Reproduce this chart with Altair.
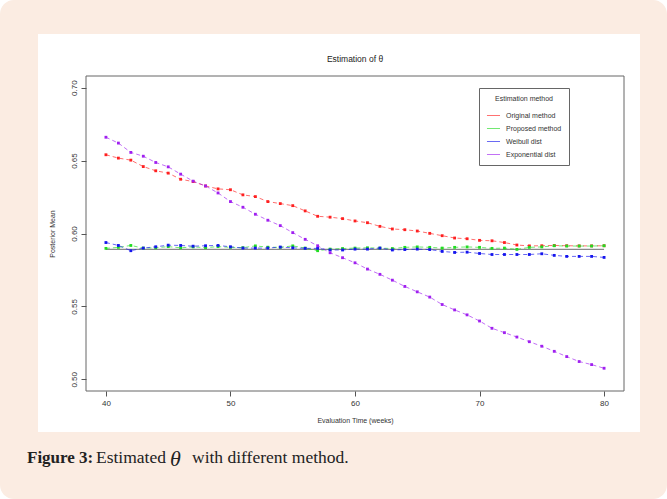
import altair as alt
import pandas as pd

weeks = list(range(40, 81))

original = [0.6540, 0.6517, 0.6503, 0.6459, 0.6430, 0.6414, 0.6372, 0.6356, 0.6326, 0.6306,
            0.6300, 0.6265, 0.6253, 0.6219, 0.6205, 0.6191, 0.6155, 0.6118, 0.6112, 0.6102,
            0.6086, 0.6074, 0.6049, 0.6031, 0.6026, 0.6017, 0.6001, 0.5985, 0.5969, 0.5964,
            0.5953, 0.5950, 0.5938, 0.5921, 0.5915, 0.5916, 0.5918, 0.5916, 0.5915, 0.5915, 0.5916]
proposed = [0.5898, 0.5905, 0.5918, 0.5900, 0.5902, 0.5910, 0.5902, 0.5908, 0.5903, 0.5910,
            0.5905, 0.5903, 0.5915, 0.5906, 0.5905, 0.5915, 0.5900, 0.5882, 0.5893, 0.5897,
            0.5900, 0.5902, 0.5900, 0.5897, 0.5905, 0.5908, 0.5905, 0.5900, 0.5905, 0.5908,
            0.5905, 0.5898, 0.5900, 0.5891, 0.5905, 0.5908, 0.5916, 0.5914, 0.5914, 0.5914, 0.5916]
weibull = [0.5938, 0.5918, 0.5882, 0.5900, 0.5909, 0.5920, 0.5918, 0.5913, 0.5916, 0.5918,
           0.5909, 0.5900, 0.5900, 0.5900, 0.5907, 0.5902, 0.5898, 0.5898, 0.5887, 0.5887,
           0.5893, 0.5893, 0.5900, 0.5887, 0.5890, 0.5893, 0.5890, 0.5877, 0.5870, 0.5872,
           0.5863, 0.5856, 0.5856, 0.5856, 0.5856, 0.5861, 0.5850, 0.5843, 0.5843, 0.5843, 0.5836]
exponential = [0.6660, 0.6620, 0.6556, 0.6530, 0.6487, 0.6457, 0.6407, 0.6359, 0.6326, 0.6278,
               0.6219, 0.6180, 0.6132, 0.6091, 0.6054, 0.6006, 0.5960, 0.5916, 0.5868, 0.5834,
               0.5799, 0.5756, 0.5720, 0.5680, 0.5637, 0.5600, 0.5564, 0.5513, 0.5476, 0.5442,
               0.5400, 0.5350, 0.5320, 0.5290, 0.5258, 0.5227, 0.5192, 0.5156, 0.5122, 0.5101, 0.5076]
true_value = [0.5891]

methods = ["Original method", "Proposed method", "Weibull dist", "Exponential dist"]
colors = ["#ff2020", "#22dd22", "#1515ee", "#a020f0"]

chart_title = ["Estimation of θ"]
caption_bold = ["Figure 3:"]
caption_rest = ["Estimated", "θ", "with different method."]

rows = []
for m, series in zip(methods, [original, proposed, weibull, exponential]):
    for w, v in zip(weeks, series):
        rows.append({"week": w, "value": v, "method": m})
df = pd.DataFrame(rows)

W, H = 538, 315
L, T = 86, 76

xs = alt.Scale(domain=[38.4, 81.6], nice=False, zero=False)
ys = alt.Scale(domain=[0.492, 0.708], nice=False, zero=False)
cs = alt.Scale(domain=methods, range=colors)

FONT = "Liberation Sans"

outer = alt.Chart(pd.DataFrame({"k": [0]})).mark_rect(
    color="#fbece2", cornerRadius=14
).encode(x=alt.value(-L), x2=alt.value(667 - L), y=alt.value(-T), y2=alt.value(499 - T))

panel = alt.Chart(pd.DataFrame({"k": [0]})).mark_rect(color="white").encode(
    x=alt.value(38 - L), x2=alt.value(640 - L), y=alt.value(34 - T), y2=alt.value(432 - T)
)

frame = alt.Chart(pd.DataFrame({"k": [0]})).mark_rect(
    fill=None, stroke="#666666", strokeWidth=1
).encode(x=alt.value(0), x2=alt.value(W), y=alt.value(0), y2=alt.value(H))

base = alt.Chart(df)

lines = base.mark_line(strokeDash=[4, 3], strokeWidth=1, opacity=0.65).encode(
    x=alt.X("week:Q", scale=xs,
            axis=alt.Axis(values=[40, 50, 60, 70, 80], title="Evaluation Time (weeks)",
                          grid=False, domain=False, tickSize=5, tickColor="#555",
                          labelFontSize=8, labelColor="#333", labelFont=FONT, labelPadding=3,
                          titleFont=FONT, titleFontSize=7, titleFontWeight="normal",
                          titleColor="#333", titlePadding=9, zindex=2)),
    y=alt.Y("value:Q", scale=ys,
            axis=alt.Axis(values=[0.5, 0.55, 0.6, 0.65, 0.7], format=".2f",
                          title="Posterior Mean", grid=False, domain=False, tickSize=5,
                          tickColor="#555", labelAngle=-90, labelAlign="center",
                          labelBaseline="bottom", labelFontSize=8, labelColor="#333",
                          labelFont=FONT, labelPadding=3, titleFont=FONT, titleFontSize=7,
                          titleFontWeight="normal", titleColor="#333", titlePadding=15,
                          zindex=2)),
    color=alt.Color("method:N", scale=cs, sort=methods,
                    legend=alt.Legend(title="Estimation method", orient="none",
                                      legendX=479 - L, legendY=88 - T,
                                      symbolType="stroke", symbolStrokeWidth=1,
                                      symbolSize=170, labelFontSize=7, titleFontSize=7,
                                      titleFontWeight="normal", titleAnchor="middle",
                                      titleFont=FONT, labelFont=FONT, labelColor="#333",
                                      titleColor="#333", strokeColor="#666",
                                      fillColor="white", padding=7, rowPadding=2,
                                      titlePadding=6, labelOffset=5, symbolDash=[1, 0],
                                      zindex=2)),
)

points = base.mark_point(filled=True, shape="square", size=8, opacity=1).encode(
    x=alt.X("week:Q", scale=xs),
    y=alt.Y("value:Q", scale=ys),
    color=alt.Color("method:N", scale=cs, sort=methods, legend=None),
)

truth = alt.Chart(pd.DataFrame({"v": true_value, "a": [weeks[0]], "b": [weeks[-1]]})).mark_rule(
    color="#8a8a8a", strokeWidth=1.4
).encode(x=alt.X("a:Q", scale=xs), x2="b:Q", y=alt.Y("v:Q", scale=ys))

title_text = alt.Chart(pd.DataFrame({"t": chart_title})).mark_text(
    font=FONT, fontSize=8.5, align="center", baseline="middle", color="#222"
).encode(text="t:N", x=alt.value(W / 2), y=alt.value(59 - T))

cap1 = alt.Chart(pd.DataFrame({"t": caption_bold})).mark_text(
    font="Liberation Serif", fontSize=17, fontWeight="bold", align="left", baseline="middle",
    color="#222"
).encode(text="t:N", x=alt.value(27 - L), y=alt.value(458 - T))

cap2 = alt.Chart(pd.DataFrame({"t": [caption_rest[0]]})).mark_text(
    font="Liberation Serif", fontSize=17.5, align="left", baseline="middle", color="#222"
).encode(text="t:N", x=alt.value(96 - L), y=alt.value(458 - T))

cap3 = alt.Chart(pd.DataFrame({"t": [caption_rest[1]]})).mark_text(
    font="Liberation Serif", fontSize=22, fontStyle="italic", align="left",
    baseline="middle", color="#222"
).encode(text="t:N", x=alt.value(170 - L), y=alt.value(459 - T))

cap4 = alt.Chart(pd.DataFrame({"t": [caption_rest[2]]})).mark_text(
    font="Liberation Serif", fontSize=17.5, align="left", baseline="middle", color="#222"
).encode(text="t:N", x=alt.value(192 - L), y=alt.value(458 - T))

chart = alt.layer(outer, panel, frame, truth, lines, points, title_text,
                  cap1, cap2, cap3, cap4).properties(
    width=W, height=H,
    autosize=alt.AutoSizeParams(type="none"),
    padding={"left": L, "top": T, "right": 667 - L - W, "bottom": 499 - T - H},
    background="white",
).configure_view(stroke=None)

chart.save("out.html", embed_options={"renderer": "svg", "actions": False})
